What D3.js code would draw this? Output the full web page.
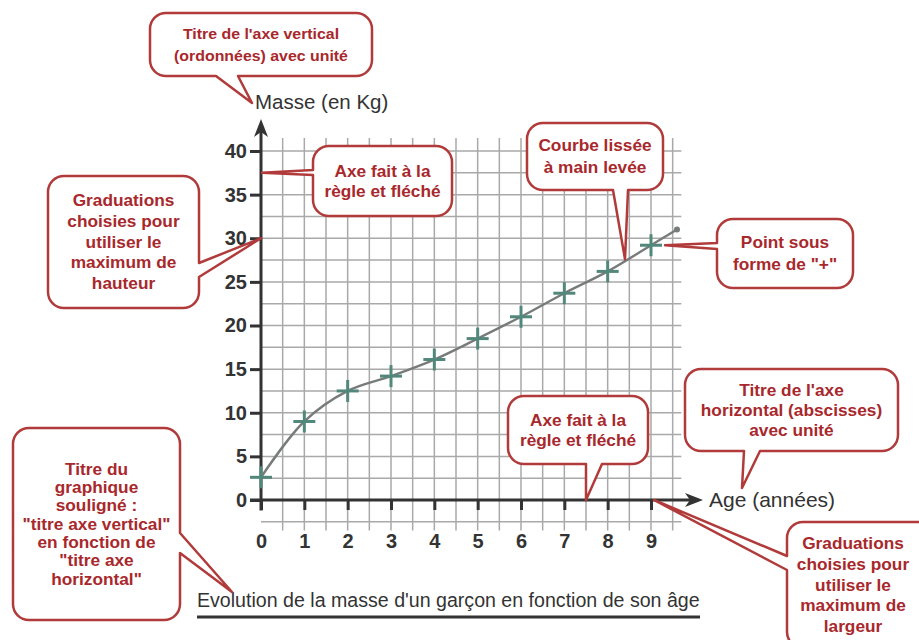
<!DOCTYPE html>
<html>
<head>
<meta charset="utf-8">
<script src="https://cdn.jsdelivr.net/npm/d3@7"></script>
<style>
  body { margin: 0; background: #fff; }
  svg { display: block; font-family: "Liberation Sans", Arial, sans-serif; }
</style>
</head>
<body>
<div id="chart"></div>
<script>
// data
var ages = [0, 1, 2, 3, 4, 5, 6, 7, 8, 9];
var masses = [2.6, 9.0, 12.5, 14.2, 16.1, 18.5, 21.0, 23.7, 26.2, 29.2];
var curveEnd = [9.6, 31.0];
var xTicks = [0, 1, 2, 3, 4, 5, 6, 7, 8, 9];
var yTicks = [0, 5, 10, 15, 20, 25, 30, 35, 40];
var yTitle = "Masse (en Kg)";
var xTitle = "Age (années)";
var chartTitle = "Evolution de la masse d'un garçon en fonction de son âge";

var svg = d3.select("#chart").append("svg")
    .attr("width", 919)
    .attr("height", 640);

var x = d3.scaleLinear().domain([0, 9]).range([261, 651]);
var y = d3.scaleLinear().domain([0, 40]).range([500, 151]);

// grid, half units
var grid = svg.append("g").attr("stroke", "#a9a9a9").attr("stroke-width", 1.5);
d3.range(0.5, 9.6, 0.5).forEach(function(v) {
    grid.append("line")
        .attr("x1", x(v)).attr("x2", x(v))
        .attr("y1", y(41.5)).attr("y2", y(-3.5));
});
d3.range(-2.5, 40.1, 2.5).forEach(function(v) {
    grid.append("line")
        .attr("x1", x(0)).attr("x2", x(9.7))
        .attr("y1", y(v)).attr("y2", y(v));
});

// axes with ticks
var yAxis = svg.append("g")
    .attr("transform", "translate(" + x(0) + ",0)")
    .call(d3.axisLeft(y).tickValues(yTicks).tickSize(11).tickPadding(3));
var xAxis = svg.append("g")
    .attr("transform", "translate(0," + y(0) + ")")
    .call(d3.axisBottom(x).tickValues(xTicks).tickSize(10).tickPadding(24));

[yAxis, xAxis].forEach(function(g) {
    g.select(".domain").remove();
    g.selectAll(".tick line").attr("stroke", "#333").attr("stroke-width", 3);
    g.selectAll(".tick text")
        .attr("fill", "#333")
        .attr("font-size", 20)
        .attr("font-weight", "bold")
        .attr("font-family", "'Liberation Sans', Arial, sans-serif");
});

// axis lines with arrow heads
svg.append("line")
    .attr("x1", x(0)).attr("y1", y(-1.2))
    .attr("x2", x(0)).attr("y2", 132)
    .attr("stroke", "#333").attr("stroke-width", 3);
svg.append("path")
    .attr("d", "M" + x(0) + ",119 L" + (x(0) - 7) + ",137 L" + x(0) + ",132 L" + (x(0) + 7) + ",137 Z")
    .attr("fill", "#333");
svg.append("line")
    .attr("x1", 250).attr("y1", y(0))
    .attr("x2", 692).attr("y2", y(0))
    .attr("stroke", "#333").attr("stroke-width", 3);
svg.append("path")
    .attr("d", "M703," + y(0) + " L685," + (y(0) - 7) + " L690," + y(0) + " L685," + (y(0) + 7) + " Z")
    .attr("fill", "#333");

svg.append("text")
    .text(yTitle)
    .attr("x", 255).attr("y", 109)
    .attr("font-size", 20.5)
    .attr("fill", "#333");
svg.append("text")
    .text(xTitle)
    .attr("x", 709).attr("y", y(0) + 7)
    .attr("font-size", 21)
    .attr("fill", "#333");

// smoothed curve
var pts = ages.map(function(a, i) { return [a, masses[i]]; });
var curvePts = pts.concat([curveEnd]);
var line = d3.line()
    .x(function(d) { return x(d[0]); })
    .y(function(d) { return y(d[1]); })
    .curve(d3.curveCatmullRom.alpha(0.5));
svg.append("path")
    .attr("d", line(curvePts))
    .attr("fill", "none")
    .attr("stroke", "#777c7b")
    .attr("stroke-width", 2.4);
svg.append("circle")
    .attr("cx", x(curveEnd[0])).attr("cy", y(curveEnd[1]))
    .attr("r", 3).attr("fill", "#777c7b");

// "+" points
var plus = svg.append("g").attr("stroke", "#52877b").attr("stroke-width", 3);
pts.forEach(function(d) {
    plus.append("line")
        .attr("x1", x(d[0]) - 11).attr("x2", x(d[0]) + 11)
        .attr("y1", y(d[1])).attr("y2", y(d[1]));
    plus.append("line")
        .attr("x1", x(d[0])).attr("x2", x(d[0]))
        .attr("y1", y(d[1]) - 11).attr("y2", y(d[1]) + 11);
});

// title, underlined
svg.append("text")
    .text(chartTitle)
    .attr("x", 197).attr("y", 607)
    .attr("font-size", 19.6)
    .attr("fill", "#333");
svg.append("line")
    .attr("x1", 197).attr("x2", 700)
    .attr("y1", 617).attr("y2", 617)
    .attr("stroke", "#333").attr("stroke-width", 3);

// speech bubbles
var bubbles = [
    { lines: ["Titre de l'axe vertical", "(ordonnées) avec unité"], fs: 15, sx: 1.06,
      box: [150, 13, 222, 63], lh: 22, side: "bottom", base: [216, 238], tip: [252, 103] },
    { lines: ["Axe fait à la", "règle et fléché"],
      box: [313, 146, 139, 70], lh: 20, side: "left", base: [170, 175], tip: [x(0) + 1, y(37.5)] },
    { lines: ["Graduations", "choisies pour", "utiliser le", "maximum de", "hauteur"],
      box: [48, 176, 151, 132], lh: 20.8, side: "right", base: [263, 277], tip: [x(0), y(30)] },
    { lines: ["Courbe lissée", "à main levée"],
      box: [527, 123, 136, 67], lh: 22, side: "bottom", base: [613, 628], tip: [x(8.4), y(27.6)] },
    { lines: ["Point sous", "forme de \"+\""],
      box: [717, 219, 136, 69], lh: 22, side: "left", base: [243, 249], tip: [x(9) + 14, y(29.2)] },
    { lines: ["Titre de l'axe", "horizontal (abscisses)", "avec unité"],
      box: [685, 369, 213, 82], lh: 20, side: "bottom", base: [744, 760], tip: [742, 488] },
    { lines: ["Axe fait à la", "règle et fléché"],
      box: [508, 396, 140, 68], lh: 20, side: "bottom", base: [586, 602], tip: [x(7.5), y(0)] },
    { lines: ["Graduations", "choisies pour", "utiliser le", "maximum de", "largeur"], cx: 853,
      box: [787, 522, 150, 126], lh: 20.8, side: "left", base: [556, 570], tip: [x(9) + 3, y(0)] },
    { lines: ["Titre du", "graphique", "souligné :", "\"titre axe vertical\"", "en fonction de", "\"titre axe", "horizontal\""],
      box: [13, 428, 167, 192], lh: 18.3, side: "right", base: [533, 553], tip: [232, 592] }
];

function bubblePath(b) {
    var bx = b.box[0], by = b.box[1], w = b.box[2], h = b.box[3], r = 16;
    var lo = Math.min(b.base[0], b.base[1]), hi = Math.max(b.base[0], b.base[1]);
    var p = d3.path();
    p.moveTo(bx + r, by);
    p.lineTo(bx + w - r, by);
    p.arcTo(bx + w, by, bx + w, by + r, r);
    if (b.side == "right") {
        p.lineTo(bx + w, lo); p.lineTo(b.tip[0], b.tip[1]); p.lineTo(bx + w, hi);
    }
    p.lineTo(bx + w, by + h - r);
    p.arcTo(bx + w, by + h, bx + w - r, by + h, r);
    if (b.side == "bottom") {
        p.lineTo(hi, by + h); p.lineTo(b.tip[0], b.tip[1]); p.lineTo(lo, by + h);
    }
    p.lineTo(bx + r, by + h);
    p.arcTo(bx, by + h, bx, by + h - r, r);
    if (b.side == "left") {
        p.lineTo(bx, hi); p.lineTo(b.tip[0], b.tip[1]); p.lineTo(bx, lo);
    }
    p.lineTo(bx, by + r);
    p.arcTo(bx, by, bx + r, by, r);
    p.closePath();
    return p.toString();
}

bubbles.forEach(function(b) {
    var g = svg.append("g");
    g.append("path")
        .attr("d", bubblePath(b))
        .attr("fill", "#fff")
        .attr("stroke", "#b13a3a")
        .attr("stroke-width", 2.5)
        .attr("stroke-linejoin", "round");
    var cx = b.cx || b.box[0] + b.box[2] / 2;
    var cy = b.box[1] + b.box[3] / 2;
    var top = cy - (b.lines.length - 1) * b.lh / 2;
    var sx = b.sx || 1.08;
    b.lines.forEach(function(t, i) {
        g.append("text")
            .text(t)
            .attr("transform", "translate(" + cx + "," + (top + i * b.lh) + ") scale(" + sx + ",1)")
            .attr("dy", "0.35em")
            .attr("text-anchor", "middle")
            .attr("font-size", b.fs || 16)
            .attr("font-weight", "bold")
            .attr("fill", "#a8282c");
    });
});
</script>
</body>
</html>
